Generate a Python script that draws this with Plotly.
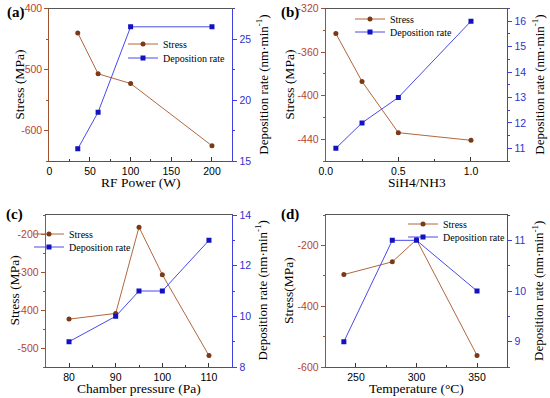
import plotly.graph_objects as go

# ---------------- data ----------------
rf_power = [35, 60, 100, 200]
rf_stress = [-440, -507, -523, -625]
rf_rate = [16, 19, 26, 26]

ratio = [0.07, 0.25, 0.5, 1.0]
ratio_stress = [-343, -387, -434, -441]
ratio_rate = [11, 12, 13, 16]

pressure = [80, 90, 95, 100, 110]
pressure_stress = [-424, -409, -182, -307, -520]
pressure_rate = [9, 10, 11, 11, 13]

temperature = [240, 280, 300, 350]
temp_stress = [-296, -254, -181, -562]
temp_rate = [9, 11, 11, 10]

# tick labels
a_x_ticks = [0, 50, 100, 150, 200]
a_yl_ticks = [-600, -500, -400]
a_yr_ticks = [15, 20, 25]
b_x_ticks = [0.0, 0.5, 1.0]
b_x_text = ["0.0", "0.5", "1.0"]
b_yl_ticks = [-440, -400, -360, -320]
b_yr_ticks = [11, 12, 13, 14, 15, 16]
c_x_ticks = [80, 90, 100, 110]
c_yl_ticks = [-500, -400, -300, -200]
c_yr_ticks = [8, 10, 12, 14]
d_x_ticks = [250, 300, 350]
d_yl_ticks = [-600, -400, -200]
d_yr_ticks = [9, 10, 11]

W, H = 550, 398
def px(x):
    return x / W
def py(y):
    return 1 - y / H

STRESS_LINE = "#B0683E"
STRESS_MARK = "#7A3A16"
RATE_LINE = "#4A4AE8"
RATE_MARK = "#1212C0"
LEFT_AX = "#A0522D"
LEFT_TXT = "#B8432C"
RIGHT_AX = "#4040E0"
RIGHT_TXT = "#3030D0"
SANS = "Liberation Sans, Arial, sans-serif"
SERIF = "Liberation Serif, Times New Roman, serif"

def fmt(v):
    return str(v)

fig = go.Figure()

panels = [
    dict(x=rf_power, s=rf_stress, r=rf_rate, xa="x", yl="y", yr="y2", lg=("legend", "legend2")),
    dict(x=ratio, s=ratio_stress, r=ratio_rate, xa="x2", yl="y3", yr="y4", lg=("legend3", "legend4")),
    dict(x=pressure, s=pressure_stress, r=pressure_rate, xa="x3", yl="y5", yr="y6", lg=("legend5", "legend6")),
    dict(x=temperature, s=temp_stress, r=temp_rate, xa="x4", yl="y7", yr="y8", lg=("legend7", "legend8")),
]
for p in panels:
    fig.add_trace(go.Scatter(x=p["x"], y=p["s"], name="Stress", mode="lines+markers",
                             xaxis=p["xa"], yaxis=p["yl"], legend=p["lg"][0],
                             line=dict(color=STRESS_LINE, width=1),
                             marker=dict(symbol="circle", size=5, color=STRESS_MARK)))
    fig.add_trace(go.Scatter(x=p["x"], y=p["r"], name="Deposition rate", mode="lines+markers",
                             xaxis=p["xa"], yaxis=p["yr"], legend=p["lg"][1],
                             line=dict(color=RATE_LINE, width=1),
                             marker=dict(symbol="square", size=5, color=RATE_MARK)))

# panel geometry in pixels (left, right, top, bottom)
geo = {
    "a": (49.3, 232.3, 8.5, 161),
    "b": (325.7, 507.3, 8.5, 161),
    "c": (45.7, 232.3, 215, 367),
    "d": (325.7, 507.3, 215, 367),
}

def xax(g, anchor, rng, ticks, text, minor_dtick):
    l, r, t, b = g
    return dict(domain=[px(l), px(r)], range=rng, anchor=anchor, automargin=False,
                tickmode="array", tickvals=ticks,
                ticktext=text, ticks="inside", ticklen=4, tickcolor="#333",
                showline=True, linecolor="#555", linewidth=1, mirror=True,
                showgrid=False, zeroline=False,
                tickfont=dict(family=SANS, size=10.5, color="black"),
                minor=dict(ticks="inside", ticklen=2, dtick=minor_dtick, tick0=0, tickcolor="#333"))

def ylax(g, anchor, rng, ticks, minor_dtick):
    l, r, t, b = g
    return dict(domain=[py(b), py(t)], range=rng, anchor=anchor, side="left", automargin=False,
                tickmode="array", tickvals=ticks, ticktext=[fmt(v) for v in ticks],
                ticks="outside", ticklen=4, tickcolor=LEFT_AX,
                showline=True, linecolor=LEFT_AX, linewidth=1,
                showgrid=False, zeroline=False,
                tickfont=dict(family=SANS, size=10.5, color=LEFT_TXT),
                minor=dict(ticks="outside", ticklen=2, dtick=minor_dtick, tick0=0, tickcolor=LEFT_AX))

def yrax(overl, anchor, rng, ticks, minor_dtick):
    return dict(overlaying=overl, range=rng, anchor=anchor, side="right", automargin=False,
                tickmode="array", tickvals=ticks, ticktext=[fmt(v) for v in ticks],
                ticks="outside", ticklen=4, tickcolor=RIGHT_AX,
                showline=True, linecolor=RIGHT_AX, linewidth=1,
                showgrid=False, zeroline=False,
                tickfont=dict(family=SANS, size=10.5, color=RIGHT_TXT),
                minor=dict(ticks="outside", ticklen=2, dtick=minor_dtick, tick0=0, tickcolor=RIGHT_AX))

fig.update_layout(
    xaxis=xax(geo["a"], "y", [0, 225], a_x_ticks, [str(v) for v in a_x_ticks], 25),
    yaxis=ylax(geo["a"], "x", [-650, -400], a_yl_ticks, 50),
    yaxis2=yrax("y", "x", [15, 27.5], a_yr_ticks, 2.5),
    xaxis2=xax(geo["b"], "y3", [0, 1.25], b_x_ticks, b_x_text, 0.25),
    yaxis3=ylax(geo["b"], "x2", [-460, -320], b_yl_ticks, 20),
    yaxis4=yrax("y3", "x2", [10.5, 16.5], b_yr_ticks, 0.5),
    xaxis3=xax(geo["c"], "y5", [75, 115], c_x_ticks, [str(v) for v in c_x_ticks], 5),
    yaxis5=ylax(geo["c"], "x3", [-550, -150], c_yl_ticks, 50),
    yaxis6=yrax("y5", "x3", [8, 14], c_yr_ticks, 1),
    xaxis4=xax(geo["d"], "y7", [225, 375], d_x_ticks, [str(v) for v in d_x_ticks], 25),
    yaxis7=ylax(geo["d"], "x4", [-600, -100], d_yl_ticks, 100),
    yaxis8=yrax("y7", "x4", [8.5, 11.5], d_yr_ticks, 0.5),
)

def legend(x, y):
    # x: pixel where legend text should start, y: pixel row centre
    return dict(x=px(x - 40), y=py(y), xanchor="left", yanchor="middle", bgcolor="rgba(0,0,0,0)",
                font=dict(family=SERIF, size=10, color="black"), itemwidth=30,
                borderwidth=0)

fig.update_layout(
    template="none",
    width=W, height=H, margin=dict(l=0, r=0, t=0, b=0, autoexpand=False),
    paper_bgcolor="white", plot_bgcolor="white",
    showlegend=True,
    legend=legend(163, 44), legend2=legend(163, 58),
    legend3=legend(390, 19), legend4=legend(390, 32),
    legend5=legend(69, 234), legend6=legend(69, 247),
    legend7=legend(443, 224), legend8=legend(443, 237),
)

annots = []
# panel labels
for lab, (x, y) in {"(a)": (16, 13), "(b)": (290, 12), "(c)": (14, 215), "(d)": (290, 215)}.items():
    annots.append(dict(text="<b>%s</b>" % lab, x=px(x), y=py(y), xref="paper", yref="paper",
                       showarrow=False, font=dict(family=SERIF, size=15, color="black"),
                       xanchor="center", yanchor="middle"))
# axis titles
left_titles = [("Stress (MPa)", 20, "a"), ("Stress (MPa)", 290, "b"),
               ("Stress (MPa)", 13.5, "c"), ("Stress(MPa)", 288, "d")]
right_titles = [(262, "a"), (538, "b"), (261.5, "c"), (538, "d")]
bottom_titles = [("RF Power (W)", "a"), ("SiH4/NH3", "b"),
                 ("Chamber pressure (Pa)", "c"), ("Temperature (\u00b0C)", "d")]
for txt, x, k in left_titles:
    l, r, t, b = geo[k]
    annots.append(dict(text=txt, x=px(x), y=py((t + b) / 2), xref="paper", yref="paper",
                       showarrow=False, textangle=-90, xanchor="center", yanchor="middle",
                       font=dict(family=SERIF, size=13.5, color="black")))
for x, k in right_titles:
    l, r, t, b = geo[k]
    annots.append(dict(text="Deposition rate (nm\u00b7min<sup>-1</sup>)", x=px(x), y=py((t + b) / 2),
                       xref="paper", yref="paper", showarrow=False, textangle=-90,
                       xanchor="center", yanchor="middle",
                       font=dict(family=SERIF, size=13, color="black")))
for txt, k in bottom_titles:
    l, r, t, b = geo[k]
    annots.append(dict(text=txt, x=px((l + r) / 2), y=py(b + 21), xref="paper", yref="paper",
                       showarrow=False, xanchor="center", yanchor="middle",
                       font=dict(family=SERIF, size=13.5, color="black")))
fig.update_layout(annotations=annots)

fig.write_html("out.html", config={"displayModeBar": False},
               post_script="document.body.style.margin='0px';")
